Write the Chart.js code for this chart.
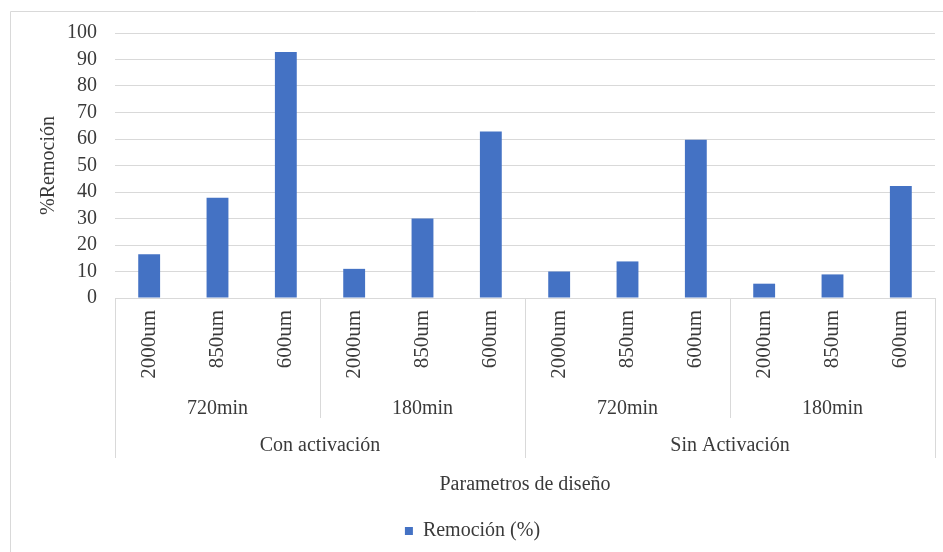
<!DOCTYPE html>
<html>
<head>
<meta charset="utf-8">
<script src="https://cdn.jsdelivr.net/npm/chart.js@4"></script>
<style>
  html, body { margin: 0; padding: 0; background: #ffffff; }
  #wrap { width: 943px; height: 552px; position: relative; }
</style>
</head>
<body>
<div id="wrap"><canvas id="myChart"></canvas></div>
<script>
// categories: particle size, contact time, activation
const sizeLabels = ['2000um', '850um', '600um', '2000um', '850um', '600um',
                    '2000um', '850um', '600um', '2000um', '850um', '600um'];
const timeLabels = ['720min', '180min', '720min', '180min'];
const activationLabels = ['Con activación', 'Sin Activación'];

// % removal for each bar
const remocion = [16.5, 37.8, 92.8, 11.0, 30.0, 62.8, 10.0, 13.8, 59.7, 5.4, 8.9, 42.3];

const FONT = '"Liberation Serif", "Times New Roman", serif';
const TEXT = '#3a3a3a';
const LINE = '#d9d9d9';

// outer frame of the chart box
const framePlugin = {
  id: 'frame',
  beforeDraw(chart) {
    const c = chart.ctx;
    c.save();
    c.strokeStyle = LINE;
    c.lineWidth = 1;
    c.beginPath();
    c.moveTo(10.5, chart.height);
    c.lineTo(10.5, 11.5);
    c.lineTo(chart.width, 11.5);
    c.stroke();
    c.restore();
  }
};

// second and third label rows under the x axis, with their dividers
const groupLabels = {
  id: 'groupLabels',
  afterDraw(chart) {
    const c = chart.ctx;
    const x = chart.scales.x;
    const bottom = chart.chartArea.bottom;
    const step = x.getPixelForValue(1) - x.getPixelForValue(0);
    const edge = (i) => x.getPixelForValue(i) - step / 2;

    c.save();
    c.strokeStyle = LINE;
    c.lineWidth = 1;
    // dividers between time groups (short) and activation groups (long)
    for (let g = 0; g <= timeLabels.length; g++) {
      const px = Math.round(edge(g * 3)) + 0.5;
      const long = g % 2 === 0;
      c.beginPath();
      c.moveTo(px, bottom);
      c.lineTo(px, bottom + (long ? 160 : 120));
      c.stroke();
    }

    c.fillStyle = TEXT;
    c.font = '20px ' + FONT;
    c.textAlign = 'center';
    c.textBaseline = 'middle';
    timeLabels.forEach((t, g) => {
      const mid = (edge(g * 3) + edge(g * 3 + 3)) / 2;
      c.fillText(t, mid, bottom + 111);
    });
    activationLabels.forEach((t, g) => {
      const mid = (edge(g * 6) + edge(g * 6 + 6)) / 2;
      c.fillText(t, mid, bottom + 148);
    });
    c.restore();
  }
};

const ctx = document.getElementById('myChart');

const myChart = new Chart(ctx, {
  type: 'bar',
  data: {
    labels: sizeLabels,
    datasets: [{
      label: 'Remoción (%)',
      data: remocion,
      backgroundColor: '#4472C4',
      borderWidth: 0,
      barPercentage: 0.32,
      categoryPercentage: 1
    }]
  },
  options: {
    responsive: true,
    maintainAspectRatio: false,
    animation: false,
    layout: {
      padding: { top: 33, left: 10, right: 8, bottom: 1 }
    },
    plugins: {
      legend: {
        position: 'bottom',
        labels: {
          boxWidth: 8,
          boxHeight: 8,
          padding: 22,
          color: TEXT,
          font: { family: FONT, size: 20 }
        }
      },
      tooltip: { enabled: false }
    },
    scales: {
      y: {
        min: 0,
        max: 100,
        ticks: {
          stepSize: 10,
          autoSkip: false,
          padding: 18,
          color: TEXT,
          font: { family: FONT, size: 20 }
        },
        grid: {
          color: LINE,
          drawTicks: false
        },
        border: { display: false },
        title: {
          display: true,
          text: '%Remoción',
          color: TEXT,
          font: { family: FONT, size: 20 },
          padding: { top: 27, bottom: 0 }
        },
        afterFit(scale) {
          scale.width = 105;
        }
      },
      x: {
        ticks: {
          minRotation: 90,
          maxRotation: 90,
          autoSkip: false,
          padding: 12,
          color: TEXT,
          font: { family: FONT, size: 21 }
        },
        grid: {
          display: false,
          drawTicks: false
        },
        border: { display: false },
        title: {
          display: true,
          text: 'Parametros de diseño',
          color: TEXT,
          font: { family: FONT, size: 20 },
          padding: { top: 0, bottom: 2 }
        },
        afterFit(scale) {
          scale.height = 201;
        }
      }
    }
  },
  plugins: [framePlugin, groupLabels]
});
</script>
</body>
</html>
